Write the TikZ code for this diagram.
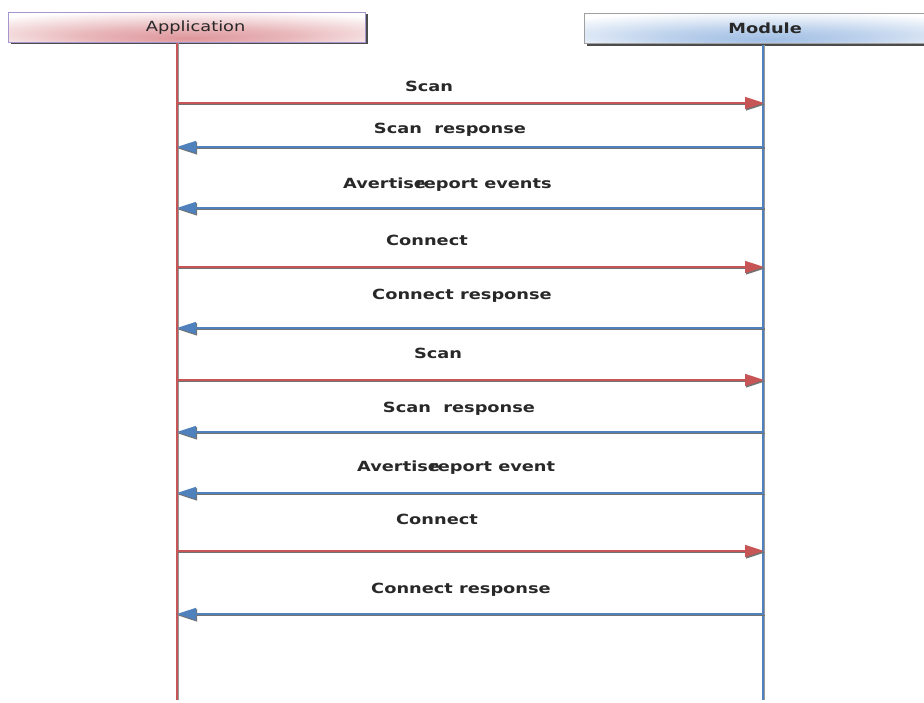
\documentclass[tikz,border=0pt]{standalone}
\usepackage{fontspec}
\setmainfont{DejaVu Sans}[FakeStretch=1.27]
\usetikzlibrary{arrows.meta}
\definecolor{appglow}{RGB}{222,150,155}
\definecolor{modglow}{RGB}{160,190,228}
\definecolor{appborder}{RGB}{165,150,205}
\definecolor{modborder}{RGB}{160,160,160}
\definecolor{redline}{RGB}{200,85,85}
\definecolor{blueline}{RGB}{79,129,189}
\definecolor{txt}{RGB}{40,40,40}
\pgfdeclareradialshading{appshade}{\pgfpoint{0bp}{-18bp}}{color(0bp)=(appglow); color(14bp)=(appglow!70!white); color(36bp)=(white); color(60bp)=(white)}
\pgfdeclareradialshading{modshade}{\pgfpoint{0bp}{-18bp}}{color(0bp)=(modglow); color(14bp)=(modglow!70!white); color(36bp)=(white); color(60bp)=(white)}
\newcommand\MsgRight[2]{%
  \draw[line width=1.8pt, black!55, -{Triangle[length=19pt,width=12pt]}] ([shift={(1pt,-1.4pt)}]#1) -- ([shift={(1pt,-1.4pt)}]#2);
  \draw[line width=1.6pt, redline, -{Triangle[length=19pt,width=12pt]}] (#1) -- (#2);}
\newcommand\MsgLeft[2]{%
  \draw[line width=1.8pt, black!55, -{Triangle[length=19pt,width=12pt]}] ([shift={(1pt,-1.4pt)}]#1) -- ([shift={(1pt,-1.4pt)}]#2);
  \draw[line width=1.6pt, blueline, -{Triangle[length=19pt,width=12pt]}] (#1) -- (#2);}
\begin{document}
\begin{tikzpicture}[x=1pt,y=-1pt,
  lbl/.style={font=\fontsize{14}{16}\selectfont\bfseries, text=txt, anchor=base, inner sep=0pt},
  lblw/.style={font=\fontsize{14}{16}\selectfont\bfseries, text=txt, anchor=base west, inner sep=0pt},
  hdr/.style={font=\fontsize{14}{16}\selectfont, text=txt, minimum height=30pt, inner sep=0pt, anchor=north west, line width=1.3pt}]
\clip (0,0) rectangle (924,703);
\fill[white] (0,0) rectangle (924,703);
% headers
\fill[black!70] (10.5,14.5) rectangle (367.5,44.5);
\node[hdr, draw=appborder, shading=appshade, minimum width=357pt] (app) at (8,12) {\hspace*{17pt}Application};
\fill[black!70] (586.5,15.5) rectangle (950,46.5);
\node[hdr, draw=modborder, shading=modshade, minimum width=360pt, font=\fontsize{14}{16}\selectfont\bfseries] (mod) at (584,13) {Module\hspace*{-1pt}};
% lifelines
\coordinate (atop) at (177,43);
\coordinate (abot) at (177,700);
\coordinate (mtop) at (763,45);
\coordinate (mbot) at (763,700);
\draw[line width=2pt, black!40] ([xshift=1.4pt]atop) -- ([xshift=1.4pt]abot);
\draw[line width=1.8pt, redline] (atop) -- (abot);
\draw[line width=2pt, black!40] ([xshift=1.4pt]mtop) -- ([xshift=1.4pt]mbot);
\draw[line width=1.8pt, blueline] (mtop) -- (mbot);
% message end points
\foreach \i/\y in {1/103,2/147,3/208,4/267,5/328,6/380,7/432,8/493,9/551,10/614}{
  \coordinate (a\i) at (177,\y);
  \coordinate (m\i) at (764,\y);
}
\MsgRight{a1}{m1}
\MsgLeft{m2}{a2}
\MsgLeft{m3}{a3}
\MsgRight{a4}{m4}
\MsgLeft{m5}{a5}
\MsgRight{a6}{m6}
\MsgLeft{m7}{a7}
\MsgLeft{m8}{a8}
\MsgRight{a9}{m9}
\MsgLeft{m10}{a10}
% labels
\node[lbl] (l1) at (429,92) {Scan};
\node[lbl] (l2) at (450,134) {Scan\ \ response};
\node[lblw] (l3) at (343,189) {Avertise\kern-0.78em report events};
\node[lbl] (l4) at (427,246) {Connect};
\node[lbl] (l5) at (462,300) {Connect response};
\node[lbl] (l6) at (438,359) {Scan};
\node[lbl] (l7) at (459,412) {Scan\ \ response};
\node[lblw] (l8) at (357,471) {Avertise\kern-0.78em report event};
\node[lbl] (l9) at (437,524) {Connect};
\node[lbl] (l10) at (461,593) {Connect response};
\end{tikzpicture}
\end{document}
